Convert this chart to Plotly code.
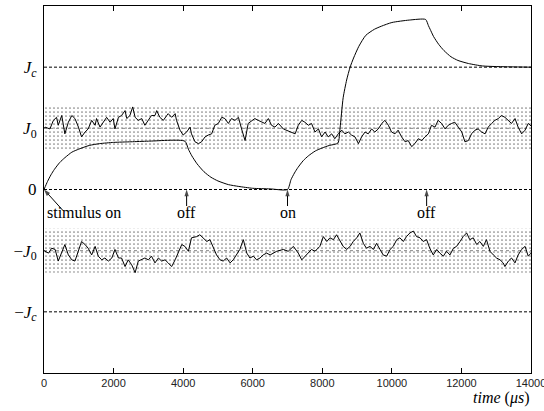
import plotly.graph_objects as go

# ---------------- data ----------------
J0 = 1.0
JC = 2.0
BAND_HALF = 0.36

# noisy trace around +J0
upper_t = [0, 30, 170, 270, 360, 410, 510, 600, 700, 800, 890, 990, 1080, 1180, 1270, 1370, 1470,
           1510, 1610, 1700, 1800, 1900, 1990, 2040, 2140, 2230, 2330, 2380, 2470, 2550, 2620,
           2710, 2810, 2900, 3000, 3090, 3190, 3240, 3330, 3430, 3530, 3570, 3670, 3770, 3810,
           3910, 4000, 4100, 4200, 4240, 4340, 4440, 4530, 4630, 4720, 4820, 4910, 5010, 5110,
           5200, 5300, 5390, 5490, 5590, 5680, 5780, 5870, 5970, 6060, 6160, 6260, 6350, 6450,
           6540, 6640, 6740, 6880, 7070, 7220, 7310, 7410, 7500, 7600, 7690, 7790, 7890, 7980,
           8080, 8170, 8270, 8360, 8460, 8560, 8650, 8750, 8840, 8940, 9040, 9130, 9230, 9320,
           9420, 9510, 9610, 9710, 9800, 9900, 9990, 10090, 10180, 10280, 10380, 10470, 10570,
           10660, 10760, 10860, 10950, 11050, 11140, 11240, 11330, 11430, 11530, 11620, 11720,
           11810, 11910, 12010, 12100, 12200, 12290, 12390, 12480, 12580, 12680, 12770, 12870,
           12960, 13060, 13150, 13250, 13350, 13440, 13540, 13630, 13730, 13830, 13920, 14000]
upper_v = [1.00, 1.02, 0.99, 1.13, 1.18, 1.05, 1.21, 0.91, 1.10, 1.21, 1.16, 1.02, 0.86, 0.94, 0.99,
           1.13, 1.05, 1.16, 1.02, 1.10, 1.18, 1.10, 1.16, 0.99, 1.18, 1.21, 1.29, 1.16, 1.21, 1.35,
           1.18, 1.13, 1.16, 1.05, 1.13, 1.21, 1.21, 1.29, 1.18, 1.13, 1.21, 1.24, 1.18, 1.24, 1.13,
           0.97, 0.89, 0.94, 1.02, 0.91, 0.78, 0.75, 0.78, 0.86, 0.89, 0.91, 1.05, 1.08, 1.18, 1.16,
           1.08, 1.16, 1.13, 1.18, 0.99, 0.80, 1.08, 1.13, 1.16, 1.13, 1.10, 1.08, 1.16, 1.05, 1.02,
           1.08, 0.99, 0.94, 0.91, 1.05, 1.13, 1.10, 1.05, 1.08, 0.94, 0.99, 0.86, 0.94, 0.86, 0.91,
           0.83, 0.91, 0.97, 0.91, 0.94, 0.89, 0.86, 0.75, 0.86, 0.94, 0.91, 0.99, 0.94, 0.99, 1.08,
           1.13, 1.05, 0.94, 0.91, 0.97, 0.86, 0.78, 0.80, 0.70, 0.75, 0.83, 0.80, 0.86, 0.91, 1.05,
           1.02, 1.13, 1.08, 0.99, 1.05, 1.08, 1.10, 1.02, 0.94, 0.78, 0.80, 0.91, 0.97, 0.99, 0.94,
           0.91, 1.02, 1.08, 1.13, 1.16, 1.21, 1.18, 1.13, 1.08, 1.16, 1.02, 0.91, 0.97, 1.08, 1.04]

# noisy trace around -J0
lower_t = [0, 30, 130, 220, 320, 410, 510, 600, 700, 800, 890, 990, 1080, 1180, 1270, 1370, 1470,
           1560, 1660, 1750, 1850, 1950, 2040, 2140, 2230, 2330, 2420, 2520, 2620, 2710, 2810,
           2900, 3000, 3090, 3190, 3290, 3380, 3480, 3570, 3670, 3770, 3860, 3960, 4050, 4150,
           4240, 4390, 4480, 4580, 4680, 4770, 4870, 4960, 5060, 5150, 5250, 5350, 5440, 5540,
           5630, 5730, 5830, 5920, 6020, 6110, 6210, 6300, 6400, 6500, 6590, 6690, 6880, 7020,
           7170, 7310, 7410, 7500, 7600, 7690, 7790, 7930, 8030, 8130, 8220, 8320, 8410, 8510,
           8600, 8700, 8800, 8890, 8990, 9080, 9180, 9270, 9370, 9470, 9560, 9660, 9750, 9850,
           9950, 10040, 10140, 10230, 10330, 10420, 10520, 10620, 10710, 10810, 10900, 11000,
           11090, 11190, 11290, 11380, 11480, 11570, 11670, 11770, 11860, 11960, 12050, 12150,
           12240, 12340, 12440, 12530, 12630, 12720, 12820, 12920, 13010, 13110, 13200, 13250,
           13350, 13440, 13540, 13630, 13730, 13830, 13920, 14000]
lower_v = [-1.00, -1.01, -1.04, -0.96, -0.98, -1.17, -1.04, -0.90, -1.07, -1.15, -1.17, -0.98,
           -0.85, -0.90, -0.96, -1.07, -0.93, -1.09, -1.15, -1.12, -1.17, -1.12, -0.98, -1.12,
           -1.12, -1.26, -1.15, -1.23, -1.36, -1.17, -1.15, -1.12, -1.15, -1.09, -1.20, -1.12,
           -1.17, -1.15, -1.20, -1.26, -1.15, -1.04, -0.90, -0.93, -1.01, -0.79, -0.77, -0.74,
           -0.79, -0.85, -0.82, -0.96, -1.07, -1.15, -1.17, -1.12, -1.20, -1.15, -1.07, -0.98,
           -0.82, -1.04, -1.12, -1.09, -1.15, -1.12, -1.07, -1.04, -1.07, -1.04, -1.01, -0.98,
           -1.01, -0.93, -1.04, -1.15, -1.09, -1.04, -0.98, -1.01, -0.93, -0.77, -0.85, -0.79,
           -0.82, -0.74, -0.85, -0.93, -0.98, -0.93, -0.85, -0.79, -0.71, -0.88, -0.96, -0.93,
           -0.98, -0.88, -0.98, -1.07, -1.09, -0.98, -0.93, -0.82, -0.79, -0.85, -0.77, -0.71,
           -0.68, -0.77, -0.79, -0.85, -0.82, -0.96, -1.07, -0.98, -1.04, -1.09, -1.01, -1.07,
           -0.96, -0.93, -0.85, -0.77, -0.71, -0.82, -0.79, -0.90, -0.85, -0.93, -0.82, -1.01,
           -1.07, -1.12, -1.15, -1.20, -1.26, -1.17, -1.12, -1.20, -1.07, -0.98, -0.93, -1.09,
           -1.04]

# smooth response curve
resp_t = [0, 100, 200, 300, 450, 600, 800, 1000, 1300, 1600, 2000, 2500, 3000, 4050,
          4150, 4250, 4400, 4600, 4800, 5000, 5300, 5600, 6000, 6500, 7000,
          7100, 7200, 7300, 7450, 7600, 7800, 8000, 8200, 8450,
          8510, 8600, 8700, 8800, 8900, 9050, 9250, 9500, 9700, 10000, 10500, 10970,
          11050, 11100, 11200, 11350, 11500, 11700, 11900, 12200, 12600, 13000, 14000]
resp_v = [0.0, 0.13, 0.24, 0.33, 0.44, 0.52, 0.61, 0.66, 0.72, 0.75, 0.77, 0.78, 0.79, 0.79,
          0.66, 0.55, 0.42, 0.29, 0.20, 0.14, 0.08, 0.05, 0.02, 0.01, 0.0,
          0.16, 0.27, 0.36, 0.47, 0.55, 0.63, 0.68, 0.72, 0.76,
          1.00, 1.50, 1.79, 2.00, 2.15, 2.34, 2.52, 2.62, 2.67, 2.73, 2.77, 2.78,
          2.68, 2.62, 2.50, 2.37, 2.27, 2.17, 2.11, 2.06, 2.02, 2.01, 2.00]

# stimulus events (time, label); first one is the "stimulus on" at t=0
event_t = [4100, 7000, 11000]
event_labels = ["off", "on", "off"]
onset_label = "stimulus on"
onset_tail = (540, -0.34)   # tail of the slanted arrow, data units

ytick_vals = [JC, J0, 0, -J0, -JC]
ytick_text = ["<i>J<sub>c</sub></i>", "<i>J</i><sub>0</sub>", "0",
              "−<i>J</i><sub>0</sub>", "−<i>J<sub>c</sub></i>"]
xtick_vals = [0, 2000, 4000, 6000, 8000, 10000, 12000, 14000]
xtick_text = [str(v) for v in xtick_vals]

X_MAX = 14000
SERIF = "Liberation Serif, DejaVu Serif, serif"
SANS = "Liberation Sans, Arial, sans-serif"

fig = go.Figure()

# stippled bands
for c in (J0, -J0):
    fig.add_trace(go.Scatter(
        x=[0, X_MAX, X_MAX, 0, 0],
        y=[c - BAND_HALF, c - BAND_HALF, c + BAND_HALF, c + BAND_HALF, c - BAND_HALF],
        mode="lines", line=dict(width=0), fill="toself",
        fillcolor="rgba(0,0,0,0)",
        fillpattern=dict(shape=".", fgcolor="black", bgcolor="white", size=4, solidity=0.14),
        hoverinfo="skip", showlegend=False))
    fig.add_trace(go.Scatter(x=[0, X_MAX], y=[c, c], mode="lines",
                             line=dict(color="#888888", width=1, dash="dot"),
                             hoverinfo="skip", showlegend=False))

# dashed reference lines
for c in (JC, 0, -JC):
    fig.add_trace(go.Scatter(x=[0, X_MAX], y=[c, c], mode="lines",
                             line=dict(color="black", width=1, dash="3px,2px"),
                             hoverinfo="skip", showlegend=False))

fig.add_trace(go.Scatter(x=upper_t, y=upper_v, mode="lines",
                         line=dict(color="black", width=1), showlegend=False))
fig.add_trace(go.Scatter(x=lower_t, y=lower_v, mode="lines",
                         line=dict(color="black", width=1), showlegend=False))
fig.add_trace(go.Scatter(x=resp_t, y=resp_v, mode="lines",
                         line=dict(color="black", width=1, shape="spline", smoothing=0.6),
                         showlegend=False))

# arrows: shaft + arrowhead marker pointing along the shaft
arrow_tails = [onset_tail] + [(t, -0.27) for t in event_t]
arrow_heads = [(0, 0)] + [(t, 0) for t in event_t]
for (tx, ty), (hx, hy) in zip(arrow_tails, arrow_heads):
    fig.add_trace(go.Scatter(
        x=[tx, hx], y=[ty, hy], mode="lines+markers",
        line=dict(color="black", width=1),
        marker=dict(symbol=["circle", "arrow"], size=[0, 7], color="black",
                    angleref="previous", standoff=0, line=dict(width=0)),
        cliponaxis=False, hoverinfo="skip", showlegend=False))

annotations = []
annotations.append(dict(x=0, y=-0.37, xref="x", yref="y", text=onset_label, showarrow=False,
                        xanchor="left", yanchor="middle", xshift=1,
                        font=dict(family=SERIF, size=16, color="black")))
for t, lab in zip(event_t, event_labels):
    annotations.append(dict(x=t, y=-0.37, xref="x", yref="y", text=lab, showarrow=False,
                            xanchor="center", yanchor="middle",
                            font=dict(family=SERIF, size=16, color="black")))
annotations.append(dict(x=1.0, y=-0.068, xref="paper", yref="paper",
                        text="<i>time</i> (<i>μs</i>)", showarrow=False,
                        xanchor="right", yanchor="middle",
                        font=dict(family=SERIF, size=16, color="black")))

fig.update_layout(
    width=544, height=411,
    margin=dict(l=44, r=13, t=6, b=38, autoexpand=False),
    paper_bgcolor="white", plot_bgcolor="white",
    showlegend=False,
    annotations=annotations,
    xaxis=dict(range=[0, X_MAX], tickvals=xtick_vals, ticktext=xtick_text,
               ticks="inside", ticklen=5, automargin=False, ticklabeloverflow="allow",
               tickcolor="black", showline=True, linecolor="black", linewidth=1,
               mirror="ticks", showgrid=False, zeroline=False,
               tickfont=dict(family=SANS, size=11, color="#222222")),
    yaxis=dict(range=[-3, 3], tickvals=ytick_vals, ticktext=ytick_text, ticks="",
               automargin=False,
               showline=True, linecolor="black", linewidth=1, mirror=True,
               showgrid=False, zeroline=False, ticklabelstandoff=3,
               tickfont=dict(family=SERIF, size=17, color="black")),
)

fig.write_html(
    "out.html",
    config={"displayModeBar": False},
    post_script="document.body.style.margin='0';document.body.style.padding='0';"
                "document.documentElement.style.overflow='hidden';",
)
